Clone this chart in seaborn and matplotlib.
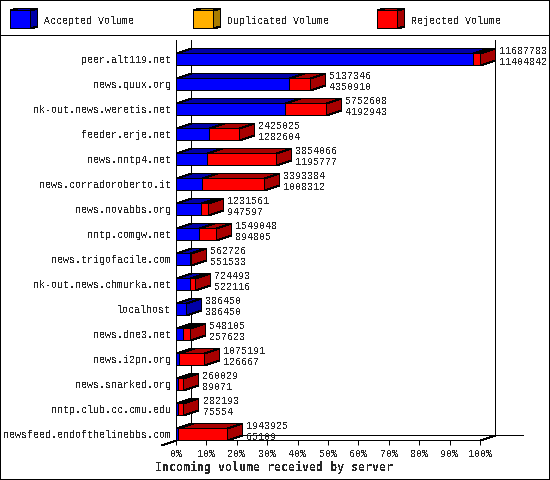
import numpy as np
import seaborn as sns
import matplotlib.pyplot as plt
from matplotlib.patches import Polygon, Rectangle
from matplotlib.lines import Line2D
from matplotlib.transforms import Affine2D

servers = ["peer.alt119.net", "news.quux.org", "nk-out.news.weretis.net", "feeder.erje.net",
           "news.nntp4.net", "news.corradoroberto.it", "news.novabbs.org", "nntp.comgw.net",
           "news.trigofacile.com", "nk-out.news.chmurka.net", "localhost", "news.dne3.net",
           "news.i2pn.org", "news.snarked.org", "nntp.club.cc.cmu.edu", "newsfeed.endofthelinebbs.com"]
total = [11687783, 5137346, 5752608, 2425025, 3854066, 3393384, 1231561, 1549048,
         562726, 724493, 386450, 548105, 1075191, 260029, 282193, 1943925]
accepted = [11404842, 4350910, 4192943, 1282604, 1195777, 1008312, 947597, 894805,
            551533, 522116, 386450, 257623, 126667, 89071, 75554, 65109]
legend_names = ["Accepted Volume", "Duplicated Volume", "Rejected Volume"]

BLUE, DBLUE = "#0000ff", "#0000a8"
RED, DRED = "#ff0000", "#a80000"
ORANGE, DORANGE = "#ffb000", "#a87c00"

sns.set_style("white")
plt.rcParams["font.family"] = ["Liberation Mono", "DejaVu Sans Mono"]
plt.rcParams["text.antialiased"] = False
plt.rcParams["patch.antialiased"] = False
plt.rcParams["lines.antialiased"] = False

W, H = 550, 480
LW = 0.72
fig = plt.figure(figsize=(W / 100, H / 100), dpi=100)
# pixel coordinates, origin top left like the original
pix = Affine2D().scale(1, -1).translate(0, H)
ax = fig.add_axes([176 / W, 40 / H, 304 / W, 400 / H])
ax.patch.set_alpha(0)

tot_pct = 100 * np.array(total) / max(total)
acc_pct = 100 * np.array(accepted) / max(total)

sns.barplot(x=tot_pct, y=servers, color=RED, saturation=1, width=0.48, orient="h",
            edgecolor="black", linewidth=LW, ax=ax, zorder=3)
sns.barplot(x=acc_pct, y=servers, color=BLUE, saturation=1, width=0.48, orient="h",
            edgecolor="black", linewidth=LW, ax=ax, zorder=3)

ax.set_xlim(0, 100)
ax.set_ylim(15.24, -0.76)

# 3d depth of the bars, 15x5 px in data units
PX = 3.04
dx = 15 / PX
dy = 5 / 25
half = 0.24
nudge_y = 0.5 / 25  # slanted faces are not pixel snapped like the bars


def snap(v):
    # same column the bar edge snaps to, centre of that pixel
    return (np.floor(176 + v * PX + 0.5) - 176 + 0.5) / PX


def face(pts, color):
    ax.add_patch(Polygon(pts, closed=True, facecolor=color, edgecolor="black",
                         linewidth=LW, clip_on=False, zorder=2.5))


for i, (t, a) in enumerate(zip(tot_pct, acc_pct)):
    top = i - half + nudge_y
    bot = i + half + nudge_y
    st, sa, s0 = snap(t), snap(a), snap(0)
    face([(s0, top), (s0 + dx, top - dy), (sa + dx, top - dy), (sa, top)], DBLUE)
    if t > a:
        face([(sa, top), (sa + dx, top - dy), (st + dx, top - dy), (st, top)], DRED)
    face([(st, top), (st + dx, top - dy), (st + dx, bot - dy), (st, bot)], DRED if t > a else DBLUE)
    ax.annotate(str(total[i]), (t, i), xytext=(19.5, 8), textcoords="offset pixels",
                fontsize=7.2, va="center", ha="left", annotation_clip=False)
    ax.annotate(str(accepted[i]), (t, i), xytext=(19.5, -3), textcoords="offset pixels",
                fontsize=7.2, va="center", ha="left", annotation_clip=False)

for s in ["top", "right"]:
    ax.spines[s].set_visible(False)
for s in ["left", "bottom"]:
    ax.spines[s].set_linewidth(LW)
    ax.spines[s].set_color("black")

ax.set_xticks(np.arange(0, 101, 10))
ax.set_xticklabels([f"{v}%" for v in range(0, 101, 10)])
ax.tick_params(axis="x", length=3.6, width=LW, color="black", labelsize=7.2, pad=3.2, bottom=True)
ax.tick_params(axis="y", length=0, labelsize=7.2, pad=3.6)
ax.set_xlabel("Incoming volume received by server", fontsize=8.4, fontweight="bold",
              family="DejaVu Sans Mono")
ax.xaxis.set_label_coords((274 - 176) / 304, -27 / 400)
ax.xaxis.label.set_va("center")
ax.set_ylabel("")

# back wall and floor, drawn behind the axes
for xs, ys in [((191, 191), (40, 435)), ((495, 495), (40, 435)), ((176, 523), (435, 435)),
               ((176.5, 161.5), (440.5, 445.5)), ((480.5, 495.5), (440.5, 435.5))]:
    fig.add_artist(Line2D(xs, ys, color="black", lw=LW, transform=pix, zorder=-1))
fig.add_artist(Line2D((0, 550), (35, 35), color="black", lw=LW, transform=pix, zorder=-1))
fig.add_artist(Rectangle((0, 0), 549, 479, fill=False, edgecolor="black", lw=LW, transform=pix))

# legend swatches
swatches = [(10, BLUE, DBLUE), (193, ORANGE, DORANGE), (377, RED, DRED)]
for (x0, c, d), name in zip(swatches, legend_names):
    w, y0, y1 = 20, 10, 28
    kw = dict(edgecolor="black", lw=LW, transform=pix)
    xa, ya, yb = x0 + 0.5, y0 + 0.5, y1 + 0.5
    fig.add_artist(Polygon([(xa, ya), (xa + 7, ya - 2), (xa + w + 7, ya - 2), (xa + w, ya)], facecolor=d, **kw))
    fig.add_artist(Polygon([(xa + w, ya), (xa + w + 7, ya - 2), (xa + w + 7, yb - 2), (xa + w, yb)], facecolor=d, **kw))
    fig.add_artist(Polygon([(x0, y0), (x0 + w, y0), (x0 + w, y1), (x0, y1)], facecolor=c, **kw))
    fig.text(x0 + 34, 20.5, name, transform=pix, fontsize=7.2, va="center", ha="left")

fig.savefig("out.png", dpi=100)
